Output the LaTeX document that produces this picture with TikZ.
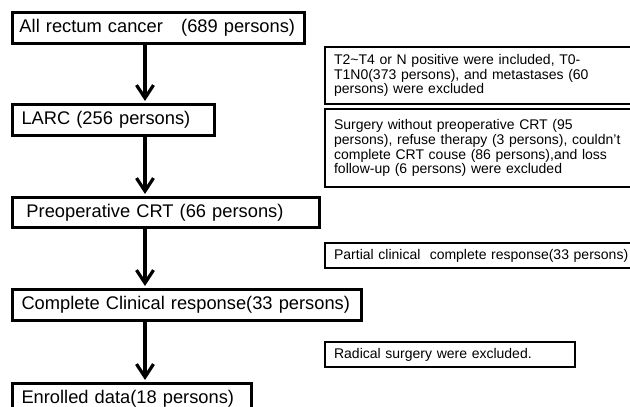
\documentclass[tikz,border=0pt]{standalone}
\usepackage{fontspec}
\setmainfont{Liberation Sans}
\usetikzlibrary{arrows.meta}
\tikzset{
  lbox/.style={draw=black, line width=3pt, anchor=north west, align=left,
    inner ysep=0pt, font=\fontsize{18.3}{22}\selectfont},
  rbox/.style={draw=black, line width=2.2pt, anchor=north west, align=left,
    inner ysep=0pt, font=\fontsize{14}{14.6}\selectfont},
  flowarr/.style={line width=3.2pt, shorten >=2pt,
    -{Straight Barb[length=13pt,width=17pt]}}
}
\begin{document}
\begin{tikzpicture}[x=1pt,y=-1pt]
\useasboundingbox (0,0) rectangle (630,407);
% left column
\node[lbox, inner xsep=7pt, text width=278pt, minimum height=31pt] (b1) at (11,11)
  {All rectum cancer\ \ \ (689 persons)};
\node[lbox, inner xsep=9pt, text width=184pt, minimum height=31pt] (b2) at (11,103)
  {LARC (256 persons)};
\node[lbox, inner xsep=14pt, text width=279pt, minimum height=30pt] (b3) at (11,196)
  {Preoperative CRT (66 persons)};
\node[lbox, inner xsep=9pt, text width=331pt, minimum height=31pt] (b4) at (11,288)
  {Complete Clinical response(33 persons)};
\node[lbox, inner xsep=9pt, text width=221pt, minimum height=31pt] (b5) at (11,382)
  {Enrolled data(18 persons)};
% right column
\node[rbox, inner xsep=9pt, text width=318pt, minimum height=57pt] (bA) at (324,46)
  {T2\textasciitilde T4 or N positive were included, T0-\\
   T1N0(373 persons), and metastases (60\\
   persons) were excluded};
\node[rbox, inner xsep=9pt, text width=318pt, minimum height=78pt] (bB) at (324,108)
  {Surgery without preoperative CRT (95\\
   persons), refuse therapy (3 persons), couldn't\\
   complete CRT couse (86 persons),and loss\\
   follow-up (6 persons) were excluded};
\node[rbox, inner xsep=9pt, text width=318pt, minimum height=25pt] (bC) at (324,242)
  {Partial clinical\ \ complete response(33 persons)};
\node[rbox, inner xsep=9pt, text width=232pt, minimum height=25pt] (bD) at (324,341)
  {Radical surgery were excluded.};
% arrows
\coordinate (ax) at (145,0);
\draw[flowarr] (ax |- b1.south) -- (ax |- b2.north);
\draw[flowarr] (ax |- b2.south) -- (ax |- b3.north);
\draw[flowarr] (ax |- b3.south) -- (ax |- b4.north);
\draw[flowarr] (ax |- b4.south) -- (ax |- b5.north);
\end{tikzpicture}
\end{document}
